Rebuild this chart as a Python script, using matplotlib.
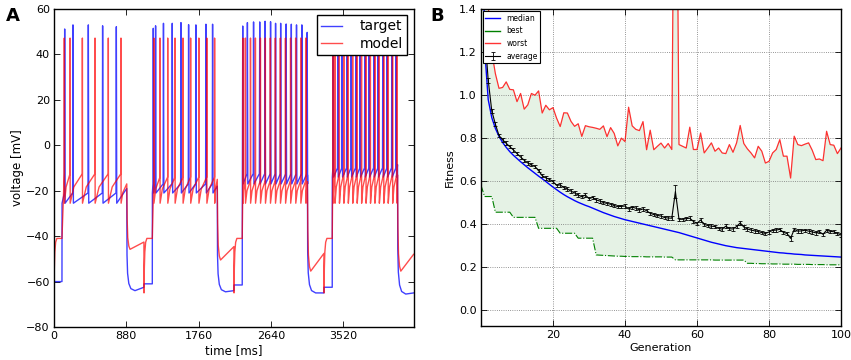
import numpy as np
import matplotlib
matplotlib.use("Agg")
import matplotlib.pyplot as plt
from matplotlib.lines import Line2D

# ---------------- Panel A data (voltage traces) ----------------
sweep_start = [0, 1096, 2192, 3288]
t_end = 4380
step_on = [97, 1197, 2292, 3388]
step_off = [886, 1988, 3086, 4183]

target_spikes = [
    [130, 231, 418, 592, 759],
    [1209, 1237, 1333, 1440, 1546, 1639, 1728, 1850, 1931],
    [2298, 2355, 2430, 2505, 2570, 2637, 2698, 2760, 2827, 2890, 2953, 3018, 3083],
    [3400, 3456, 3509, 3566, 3619, 3675, 3728, 3785, 3838, 3895, 3947, 4004, 4057, 4114, 4166],
]
target_peaks = [
    [51.2, 53.0, 53.0, 52.6, 52.2],
    [51.5, 52.6, 53.7, 53.7, 54.0, 53.1, 53.0, 53.3, 53.3],
    [52.5, 54.0, 54.3, 54.3, 54.6, 54.4, 53.7, 53.7, 53.4, 53.3, 53.0, 53.0, 49.7],
    [52.5, 54.0, 54.3, 54.3, 54.5, 54.4, 54.0, 53.7, 53.5, 53.3, 53.0, 53.0, 52.8, 52.5, 52.0],
]
target_rest = [-60.0, -61.0, -61.5, -62.5]
target_trough = [-25.5, -21.0, -17.0, -14.0]
target_pre = [-21.0, -17.0, -12.5, -10.0]
target_end = [-19.0, -18.0, -13.0, -8.5]
target_post_min = [-64.0, -64.5, -65.0, -65.5]
target_post_end = [-62.5, -64.0, -65.0, -65.0]

model_spikes = [
    [125, 195, 345, 499, 661, 815],
    [1215, 1290, 1384, 1473, 1570, 1663, 1763, 1860, 1955],
    [2300, 2330, 2392, 2452, 2513, 2573, 2634, 2695, 2756, 2818, 2880, 2942, 3004, 3066],
    [3395, 3420, 3474, 3528, 3582, 3636, 3690, 3744, 3798, 3852, 3906, 3960, 4014, 4068, 4122, 4176],
]
model_peak = 47.2
model_reset = -25.5
model_hold = -41.0
model_restart = -65.0
model_pre = [-12.5, -14.0, -15.5, -12.5]
model_end = [-17.0, -15.0, -16.0, -13.0]
model_post_min = [-45.8, -50.5, -55.4, -55.4]
model_post_end = [-42.6, -44.6, -47.6, -48.0]

# waveform templates (ms after event, fraction of the step remaining)
target_decay_dt = [0, 3, 10, 25, 50, 100]
target_decay_frac = [1.0, 0.35, 0.17, 0.07, 0.02, 0.0]
model_decay_dt = [0, 5, 12, 25, 40]
model_decay_frac = [1.0, 0.45, 0.18, 0.05, 0.0]
model_rise_dt = [0, 4, 10, 20, 35]
model_rise_frac = [0.0, 0.45, 0.75, 0.93, 1.0]

# ---------------- Panel B data (fitness) ----------------
gens = list(range(0, 101))
median = [2.5, 1.22, 0.98, 0.895, 0.845, 0.808, 0.78, 0.757, 0.737, 0.72,
          0.705, 0.69, 0.676, 0.662, 0.649, 0.636, 0.623, 0.611, 0.598, 0.585,
          0.572, 0.56, 0.548, 0.537, 0.527, 0.518, 0.509, 0.501, 0.494, 0.487,
          0.481, 0.474, 0.467, 0.46, 0.453, 0.447, 0.441, 0.435, 0.43, 0.425,
          0.42, 0.416, 0.412, 0.408, 0.404, 0.40, 0.396, 0.392, 0.388, 0.384,
          0.38, 0.376, 0.372, 0.368, 0.364, 0.36, 0.355, 0.35, 0.345, 0.34,
          0.335, 0.33, 0.325, 0.32, 0.315, 0.311, 0.307, 0.303, 0.299, 0.296,
          0.293, 0.29, 0.288, 0.286, 0.284, 0.282, 0.28, 0.278, 0.276, 0.274,
          0.272, 0.27, 0.268, 0.266, 0.265, 0.263, 0.262, 0.26, 0.259, 0.258,
          0.256, 0.255, 0.254, 0.253, 0.252, 0.251, 0.25, 0.249, 0.248, 0.247,
          0.246]
best = [0.58, 0.528, 0.528, 0.528, 0.455, 0.455, 0.455, 0.455, 0.455, 0.431,
        0.431, 0.431, 0.431, 0.431, 0.431, 0.431, 0.38, 0.38, 0.38, 0.38,
        0.38, 0.38, 0.357, 0.357, 0.357, 0.357, 0.357, 0.334, 0.334, 0.334,
        0.334, 0.334, 0.256, 0.255, 0.254, 0.253, 0.252, 0.251, 0.25, 0.25,
        0.249, 0.249, 0.248, 0.248, 0.248, 0.248, 0.247, 0.247, 0.247, 0.247,
        0.247, 0.246, 0.246, 0.246, 0.233, 0.233, 0.233, 0.233, 0.233, 0.233,
        0.233, 0.233, 0.233, 0.233, 0.233, 0.232, 0.232, 0.232, 0.232, 0.232,
        0.232, 0.232, 0.232, 0.232, 0.217, 0.217, 0.216, 0.216, 0.215, 0.215,
        0.215, 0.214, 0.214, 0.214, 0.213, 0.213, 0.213, 0.213, 0.212, 0.212,
        0.212, 0.212, 0.211, 0.211, 0.211, 0.211, 0.21, 0.21, 0.21, 0.21,
        0.21]
worst = [2.2, 1.7, 1.42, 1.2, 1.1, 1.032, 1.036, 1.062, 1.027, 1.025,
         0.97, 1.008, 0.935, 0.955, 1.008, 1.0, 1.02, 0.917, 0.953, 0.932,
         0.942, 0.893, 0.854, 0.918, 0.917, 0.878, 0.855, 0.867, 0.808, 0.858,
         0.853, 0.85, 0.846, 0.841, 0.857, 0.807, 0.849, 0.822, 0.764, 0.80,
         0.784, 0.944, 0.857, 0.841, 0.835, 0.877, 0.746, 0.837, 0.746, 0.762,
         0.777, 0.754, 0.775, 0.747, 3.0, 0.77, 0.762, 0.754, 0.851, 0.747,
         0.747, 0.824, 0.731, 0.754, 0.778, 0.739, 0.754, 0.731, 0.728, 0.77,
         0.734, 0.778, 0.859, 0.775, 0.75, 0.731, 0.708, 0.762, 0.739, 0.684,
         0.692, 0.731, 0.747, 0.793, 0.716, 0.716, 0.614, 0.809, 0.77, 0.765,
         0.772, 0.778, 0.744, 0.70, 0.703, 0.695, 0.832, 0.77, 0.767, 0.728,
         0.754]
avg_gens = list(range(1, 101))
average = [1.30, 1.07, 0.926, 0.865, 0.812, 0.792, 0.776, 0.760, 0.745, 0.728,
           0.712, 0.697, 0.684, 0.676, 0.668, 0.648, 0.625, 0.615, 0.608, 0.597,
           0.580, 0.582, 0.570, 0.563, 0.553, 0.545, 0.535, 0.527, 0.535, 0.518,
           0.524, 0.512, 0.507, 0.500, 0.496, 0.492, 0.486, 0.481, 0.482, 0.484,
           0.470, 0.478, 0.474, 0.465, 0.470, 0.462, 0.450, 0.444, 0.440, 0.437,
           0.430, 0.428, 0.427, 0.551, 0.422, 0.422, 0.425, 0.427, 0.412, 0.403,
           0.419, 0.398, 0.393, 0.390, 0.388, 0.380, 0.376, 0.390, 0.378, 0.377,
           0.388, 0.405, 0.386, 0.377, 0.372, 0.368, 0.365, 0.360, 0.356, 0.363,
           0.370, 0.372, 0.375, 0.361, 0.356, 0.333, 0.375, 0.367, 0.368, 0.371,
           0.367, 0.363, 0.359, 0.364, 0.352, 0.371, 0.366, 0.364, 0.356, 0.349]
average_err = [0.02, 0.012, 0.01, 0.01, 0.009, 0.009, 0.009, 0.008, 0.008, 0.008,
               0.008, 0.008, 0.008, 0.008, 0.008, 0.008, 0.008, 0.008, 0.008, 0.008,
               0.008, 0.008, 0.008, 0.008, 0.008, 0.008, 0.008, 0.008, 0.008, 0.008,
               0.008, 0.008, 0.008, 0.008, 0.008, 0.008, 0.008, 0.008, 0.008, 0.008,
               0.008, 0.008, 0.008, 0.008, 0.008, 0.008, 0.008, 0.008, 0.008, 0.008,
               0.008, 0.008, 0.008, 0.031, 0.008, 0.008, 0.008, 0.008, 0.008, 0.008,
               0.008, 0.008, 0.008, 0.008, 0.008, 0.008, 0.008, 0.008, 0.008, 0.008,
               0.008, 0.008, 0.008, 0.008, 0.008, 0.008, 0.008, 0.008, 0.008, 0.008,
               0.008, 0.008, 0.008, 0.008, 0.008, 0.012, 0.008, 0.008, 0.008, 0.008,
               0.008, 0.008, 0.008, 0.008, 0.008, 0.008, 0.008, 0.008, 0.008, 0.008]


def build_target():
    t, v = [], []
    ends = sweep_start[1:] + [t_end]
    for k in range(4):
        t += [sweep_start[k], step_on[k], step_on[k] + 1]
        v += [target_rest[k], target_rest[k], target_trough[k]]
        for s, pk in zip(target_spikes[k], target_peaks[k]):
            t += [s - 4, s, s + 5]
            v += [target_pre[k], pk, target_trough[k]]
        t.append(step_off[k])
        v.append(target_end[k])
        for dt, f in zip(target_decay_dt[1:], target_decay_frac[1:]):
            t.append(step_off[k] + dt)
            v.append(target_post_min[k] + f * (target_end[k] - target_post_min[k]))
        t.append(ends[k] - 1)
        v.append(target_post_end[k])
    return t, v


def build_model():
    t, v = [], []
    ends = sweep_start[1:] + [t_end]
    for k in range(4):
        for dt, f in zip(model_rise_dt, model_rise_frac):
            t.append(sweep_start[k] + dt)
            v.append(model_restart + f * (model_hold - model_restart))
        t.append(step_on[k])
        v.append(model_hold)
        sp = model_spikes[k]
        for i, s in enumerate(sp):
            t += [s, s + 0.5, s + 2]
            v += [model_pre[k], model_peak, model_reset]
            nxt = sp[i + 1] if i + 1 < len(sp) else step_off[k]
            target_v = model_pre[k] if i + 1 < len(sp) else model_end[k]
            t.append(s + 2 + 0.3 * (nxt - s - 2))
            v.append(model_reset + 0.55 * (target_v - model_reset))
        t.append(step_off[k])
        v.append(model_end[k])
        for dt, f in zip(model_decay_dt[1:], model_decay_frac[1:]):
            t.append(step_off[k] + dt)
            v.append(model_post_min[k] + f * (model_end[k] - model_post_min[k]))
        t.append(ends[k] - 1)
        v.append(model_post_end[k])
    return t, v


plt.rcParams['font.family'] = ['DejaVu Sans']
fig = plt.figure(figsize=(8.51, 3.6), dpi=100)

# ---------------- Panel A ----------------
axA = fig.add_axes([54 / 851, 1 - 327 / 360, (413.7 - 54) / 851, (327 - 9) / 360])
tt, vt = build_target()
tm, vm = build_model()
axA.plot(tt, vt, color='b', lw=1.0, alpha=0.75, label='target')
axA.plot(tm, vm, color='r', lw=1.0, alpha=0.7, label='model')
axA.set_xlim(0, t_end)
axA.set_ylim(-80, 60)
axA.set_xticks([0, 880, 1760, 2640, 3520])
axA.set_yticks(range(-80, 61, 20))
axA.set_xlabel('time [ms]', fontsize=8.5, labelpad=2)
axA.set_ylabel('voltage [mV]', fontsize=8.5, labelpad=2)
axA.tick_params(direction='in', top=True, right=True, length=4, width=0.6,
                labelsize=8, pad=3)
leg = axA.legend(loc='upper right', fontsize=10, handlelength=1.5,
                 handletextpad=1.3, borderaxespad=0.45, fancybox=False,
                 framealpha=1, edgecolor='k', borderpad=0.3, labelspacing=0.25)
leg.get_frame().set_linewidth(1.0)
for sp in axA.spines.values():
    sp.set_linewidth(1.0)
fig.text(13 / 851, 1 - 16 / 360, 'A', fontsize=13, fontweight='bold',
         ha='center', va='center')

# ---------------- Panel B ----------------
axB = fig.add_axes([481 / 851, 1 - 326 / 360, (841 - 481) / 851, (326 - 9.3) / 360])
axB.fill_between(gens, best, worst, color='g', alpha=0.1, lw=0)
axB.plot(gens, median, color='b', lw=1.0)
axB.plot(gens, best, color='g', lw=0.8, ls='-.')
axB.plot(gens, worst, color='r', lw=0.9, alpha=0.8)
eb = axB.errorbar(avg_gens, average, yerr=average_err, color='k', lw=0.8,
                  capsize=1.6, elinewidth=0.6, capthick=0.6)
axB.set_xlim(0, 100)
axB.set_ylim(-0.075, 1.4)
axB.set_xticks([20, 40, 60, 80, 100])
axB.set_yticks([0.0, 0.2, 0.4, 0.6, 0.8, 1.0, 1.2, 1.4])
axB.set_yticklabels(['0.0', '0.2', '0.4', '0.6', '0.8', '1.0', '1.2', '1.4'])
axB.grid(True, color='0.45', ls=':', lw=0.6)
axB.set_xlabel('Generation', fontsize=8, labelpad=2)
axB.set_ylabel('Fitness', fontsize=8, labelpad=3)
axB.tick_params(direction='in', top=True, right=True, length=4, width=0.6,
                labelsize=8, pad=3)
for sp in axB.spines.values():
    sp.set_linewidth(1.0)
handles = [Line2D([], [], color='b', lw=1.0), Line2D([], [], color='g', lw=1.0),
           Line2D([], [], color='r', lw=1.0, alpha=0.8), eb]
legB = axB.legend(handles, ['median', 'best', 'worst', 'average'], loc='upper left',
                  fontsize=5.5, handlelength=2.0, handletextpad=0.8,
                  borderaxespad=0.25, fancybox=False, framealpha=1, edgecolor='k',
                  borderpad=0.3, labelspacing=0.5)
legB.get_frame().set_linewidth(0.8)
fig.text(437 / 851, 1 - 16 / 360, 'B', fontsize=13, fontweight='bold',
         ha='center', va='center')

fig.savefig('out.png', dpi=100)
